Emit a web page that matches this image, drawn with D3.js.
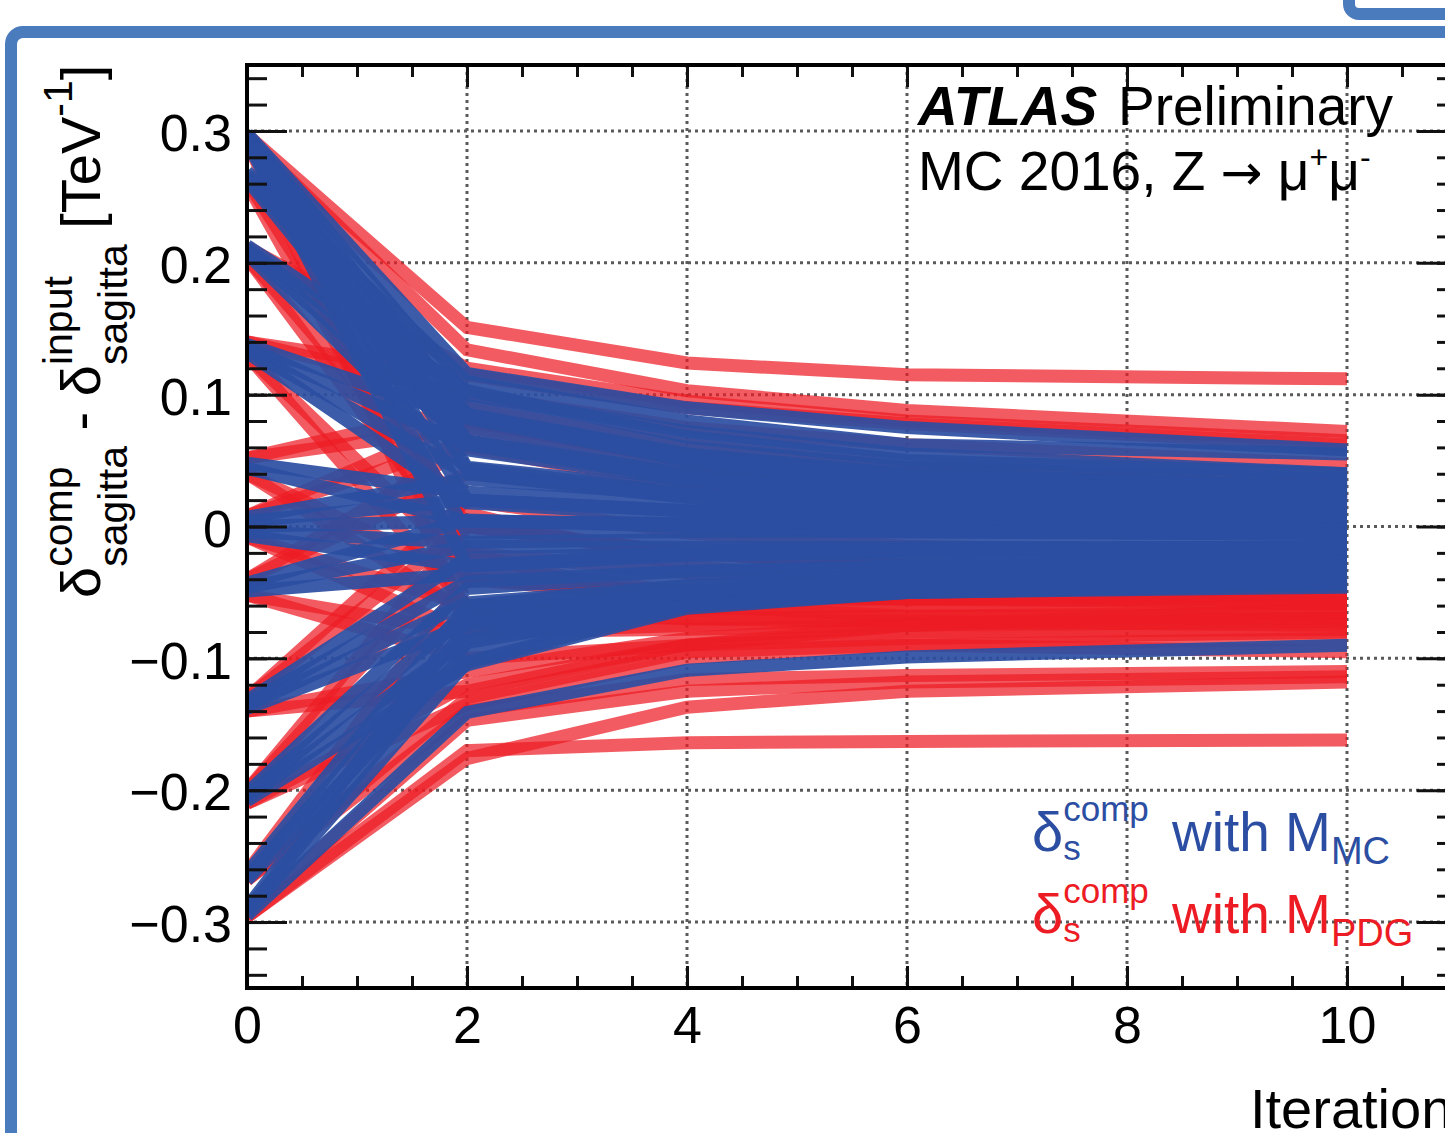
<!DOCTYPE html>
<html>
<head>
<meta charset="utf-8">
<script src="https://cdn.jsdelivr.net/npm/d3@7"></script>
<style>
  html, body { margin: 0; padding: 0; background: #fff; overflow: hidden; }
  svg { display: block; font-family: "Liberation Sans", Arial, Helvetica, sans-serif; }
  text { white-space: pre; }
</style>
</head>
<body>
<svg id="chart" width="1445" height="1133"></svg>
<script>
// iteration numbers at which every run is sampled
const iterations = [0, 2, 4, 6, 10];

// delta_s^comp with M_MC, one row per run: value at each iteration
const blueRuns = [
  [0.298, 0.116, 0.090, 0.075, 0.058],
  [0.297, 0.100, 0.072, 0.055, 0.040],
  [0.296, 0.085, 0.055, 0.040, 0.030],
  [0.295, 0.065, 0.040, 0.030, 0.022],
  [0.294, 0.045, 0.028, 0.020, 0.015],
  [0.294, 0.020, 0.012, 0.008, 0.005],
  [0.293, -0.005, -0.004, -0.004, -0.005],
  [0.292, -0.030, -0.020, -0.018, -0.015],
  [0.269, 0.110, 0.080, 0.062, 0.055],
  [0.267, 0.092, 0.060, 0.045, 0.035],
  [0.265, 0.075, 0.048, 0.035, 0.028],
  [0.263, 0.058, 0.035, 0.025, 0.018],
  [0.213, 0.103, 0.068, 0.050, 0.040],
  [0.211, 0.085, 0.052, 0.038, 0.030],
  [0.209, 0.065, 0.038, 0.026, 0.020],
  [0.207, 0.044, 0.025, 0.016, 0.010],
  [0.138, 0.082, 0.050, 0.035, 0.025],
  [0.136, 0.062, 0.036, 0.024, 0.016],
  [0.134, 0.040, 0.022, 0.012, 0.008],
  [0.132, 0.018, 0.008, 0.002, 0.000],
  [0.048, 0.026, 0.018, 0.012, 0.010],
  [0.044, 0.004, 0.002, 0.000, -0.002],
  [0.007, 0.036, 0.024, 0.018, 0.015],
  [0.004, 0.020, 0.012, 0.008, 0.006],
  [0.000, 0.004, 0.002, 0.000, -0.002],
  [-0.004, -0.012, -0.010, -0.010, -0.010],
  [-0.007, -0.030, -0.022, -0.020, -0.018],
  [-0.043, 0.005, 0.000, -0.004, -0.006],
  [-0.046, -0.015, -0.016, -0.016, -0.016],
  [-0.049, -0.036, -0.030, -0.026, -0.024],
  [-0.132, -0.024, -0.020, -0.018, -0.016],
  [-0.134, -0.042, -0.034, -0.030, -0.028],
  [-0.136, -0.058, -0.045, -0.038, -0.034],
  [-0.138, -0.075, -0.052, -0.044, -0.040],
  [-0.202, -0.047, -0.036, -0.030, -0.026],
  [-0.204, -0.066, -0.050, -0.040, -0.035],
  [-0.206, -0.086, -0.055, -0.046, -0.040],
  [-0.208, -0.105, -0.062, -0.050, -0.044],
  [-0.263, -0.060, -0.045, -0.036, -0.030],
  [-0.266, -0.078, -0.056, -0.044, -0.038],
  [-0.268, -0.095, -0.058, -0.048, -0.042],
  [-0.289, -0.070, -0.050, -0.040, -0.034],
  [-0.291, -0.088, -0.060, -0.046, -0.040],
  [-0.293, -0.103, -0.060, -0.050, -0.046],
  [-0.295, -0.141, -0.109, -0.099, -0.090]
];

// delta_s^comp with M_PDG
const redRuns = [
  [0.297, 0.151, 0.124, 0.115, 0.112],
  [0.295, 0.134, 0.103, 0.088, 0.072],
  [0.292, -0.070, -0.065, -0.060, -0.058],
  [0.262, 0.000, -0.020, -0.030, -0.030],
  [0.260, -0.040, -0.055, -0.055, -0.052],
  [0.212, 0.120, 0.095, 0.080, 0.065],
  [0.204, 0.010, -0.030, -0.045, -0.050],
  [0.204, -0.020, -0.060, -0.068, -0.070],
  [0.140, 0.115, 0.090, 0.078, 0.062],
  [0.140, 0.100, 0.075, 0.062, 0.047],
  [0.130, -0.030, -0.050, -0.055, -0.056],
  [0.130, -0.060, -0.070, -0.072, -0.075],
  [0.052, 0.075, 0.050, 0.030, 0.020],
  [0.052, 0.090, 0.062, 0.045, 0.035],
  [0.040, -0.040, -0.050, -0.055, -0.058],
  [0.040, -0.065, -0.070, -0.068, -0.065],
  [0.008, 0.065, 0.040, 0.030, 0.020],
  [0.008, 0.080, 0.050, 0.030, 0.025],
  [-0.008, -0.060, -0.062, -0.060, -0.058],
  [-0.008, -0.080, -0.075, -0.070, -0.066],
  [-0.040, 0.040, 0.025, 0.015, 0.010],
  [-0.040, 0.060, 0.030, 0.020, 0.012],
  [-0.052, -0.080, -0.078, -0.075, -0.072],
  [-0.052, -0.100, -0.090, -0.085, -0.080],
  [-0.130, 0.000, -0.020, -0.030, -0.035],
  [-0.130, 0.020, -0.005, -0.015, -0.020],
  [-0.140, -0.110, -0.085, -0.075, -0.070],
  [-0.140, -0.125, -0.090, -0.080, -0.078],
  [-0.200, -0.020, -0.035, -0.040, -0.045],
  [-0.200, 0.000, -0.020, -0.030, -0.032],
  [-0.210, -0.120, -0.090, -0.075, -0.062],
  [-0.210, -0.135, -0.100, -0.090, -0.085],
  [-0.262, -0.040, -0.050, -0.050, -0.050],
  [-0.268, -0.140, -0.116, -0.113, -0.110],
  [-0.268, -0.130, -0.095, -0.090, -0.095],
  [-0.293, -0.147, -0.125, -0.118, -0.114],
  [-0.296, -0.170, -0.164, -0.163, -0.162],
  [-0.296, -0.176, -0.137, -0.125, -0.118]
];

const xTicks = [0, 2, 4, 6, 8, 10];
const yTicks = [-0.3, -0.2, -0.1, 0, 0.1, 0.2, 0.3];
const yTickLabels = ["\u22120.3", "\u22120.2", "\u22120.1", "0", "0.1", "0.2", "0.3"];

const blueColor = "#2b4ea2";
const redColor = "#ed1c24";
const frameColor = "#4a7bbd";

const svg = d3.select("#chart");

// plot frame in pixels
const plotL = 247, plotR = 1457, plotT = 65, plotB = 988;
const x = d3.scaleLinear().domain([0, 11]).range([plotL, plotR]);
const y = d3.scaleLinear().domain([-0.35, 0.35]).range([plotB, plotT]);

// slide frame around the figure
svg.append("rect")
  .attr("x", 11).attr("y", 32).attr("width", 1700).attr("height", 1400)
  .attr("rx", 12).attr("fill", "none")
  .attr("stroke", frameColor).attr("stroke-width", 12);
svg.append("rect")
  .attr("x", 1349).attr("y", -200).attr("width", 300).attr("height", 214)
  .attr("rx", 10).attr("fill", "none")
  .attr("stroke", frameColor).attr("stroke-width", 12);

// dotted grid
const grid = svg.append("g")
  .attr("stroke", "#5a5a5a").attr("stroke-width", 3).attr("stroke-dasharray", "3,4");
grid.selectAll("line.gy").data(yTicks).join("line")
  .attr("x1", plotL).attr("x2", plotR)
  .attr("y1", d => y(d)).attr("y2", d => y(d));
grid.selectAll("line.gx").data(xTicks.filter(d => d > 0)).join("line")
  .attr("y1", plotT).attr("y2", plotB)
  .attr("x1", d => x(d)).attr("x2", d => x(d));

// runs
svg.append("clipPath").attr("id", "plotclip")
  .append("rect").attr("x", plotL).attr("y", plotT)
  .attr("width", plotR - plotL).attr("height", plotB - plotT);

const line = d3.line()
  .x((d, i) => x(iterations[i]))
  .y(d => y(d));

const runs = svg.append("g").attr("clip-path", "url(#plotclip)")
  .attr("fill", "none").attr("stroke-width", 13);

runs.append("g").selectAll("path").data(redRuns).join("path")
  .attr("d", line).attr("stroke", redColor).attr("stroke-opacity", 0.72);

runs.append("g").selectAll("path").data(blueRuns).join("path")
  .attr("d", line).attr("stroke", blueColor).attr("stroke-opacity", 0.92);

// axes: major and minor ticks on all four sides, pointing inward
const xMinor = d3.range(0, 11.01, 0.5);
const yMinor = d3.range(-0.34, 0.345, 0.02);

function styleAxis(g) {
  g.selectAll(".tick line").attr("stroke", "#111").attr("stroke-width", 3);
  g.select(".domain").remove();
  g.selectAll("text").attr("font-size", 52).attr("fill", "#000")
    .attr("font-family", "Liberation Sans, Arial, sans-serif");
}

svg.append("g").attr("transform", `translate(0,${plotB})`)
  .call(d3.axisBottom(x).tickValues(xMinor).tickSize(-12).tickFormat(""))
  .call(styleAxis);
svg.append("g").attr("transform", `translate(0,${plotB})`)
  .call(d3.axisBottom(x).tickValues(xTicks).tickSize(-22).tickPadding(18).tickFormat(d3.format("d")))
  .call(styleAxis);
svg.append("g").attr("transform", `translate(0,${plotT})`)
  .call(d3.axisTop(x).tickValues(xMinor).tickSize(-12).tickFormat(""))
  .call(styleAxis);
svg.append("g").attr("transform", `translate(0,${plotT})`)
  .call(d3.axisTop(x).tickValues(xTicks).tickSize(-22).tickFormat(""))
  .call(styleAxis);

svg.append("g").attr("transform", `translate(${plotL},0)`)
  .call(d3.axisLeft(y).tickValues(yMinor).tickSize(-20).tickFormat(""))
  .call(styleAxis);
const gy = svg.append("g").attr("transform", `translate(${plotL},0)`)
  .call(d3.axisLeft(y).tickValues(yTicks).tickSize(-40).tickPadding(15)
    .tickFormat((d, i) => yTickLabels[i]))
  .call(styleAxis);
gy.selectAll("text").attr("dy", "0.38em");
svg.append("g").attr("transform", `translate(${plotR},0)`)
  .call(d3.axisRight(y).tickValues(yMinor).tickSize(-20).tickFormat(""))
  .call(styleAxis);
svg.append("g").attr("transform", `translate(${plotR},0)`)
  .call(d3.axisRight(y).tickValues(yTicks).tickSize(-40).tickFormat(""))
  .call(styleAxis);

svg.append("rect")
  .attr("x", plotL).attr("y", plotT).attr("width", plotR - plotL).attr("height", plotB - plotT)
  .attr("fill", "none").attr("stroke", "#000").attr("stroke-width", 4);

// text with sub/superscripts laid out piece by piece
function richText(g, parts, fill) {
  let cx = 0, prevStart = 0, prevW = 0;
  parts.forEach(p => {
    const el = g.append("text")
      .attr("y", p.dy || 0)
      .attr("font-size", p.size)
      .attr("fill", fill)
      .text(p.t);
    if (p.family) el.attr("font-family", p.family);
    const w = el.node().getComputedTextLength();
    if (p.stack) {
      el.attr("x", prevStart);
      cx = prevStart + Math.max(prevW, w);
    } else {
      el.attr("x", cx);
      prevStart = cx;
      prevW = w;
      cx += w;
    }
  });
  return cx;
}

// y-axis title
const ytitle = svg.append("g").attr("transform", "translate(100,598) rotate(-90)");
richText(ytitle, [
  {t: "\u03b4", size: 56},
  {t: "comp", size: 41, dy: -28},
  {t: "sagitta", size: 41, dy: 27, stack: true},
  {t: " - ", size: 56},
  {t: "\u03b4", size: 56},
  {t: "input", size: 41, dy: -28},
  {t: "sagitta", size: 41, dy: 27, stack: true},
  {t: " [TeV", size: 56},
  {t: "-1", size: 41, dy: -28},
  {t: "]", size: 56}
], "#000");

// x-axis title (runs past the right edge, as in the slide)
svg.append("text").attr("x", 1250).attr("y", 1128)
  .attr("font-size", 56).attr("fill", "#000").text("Iteration");

// ATLAS label
svg.append("text").attr("x", 918).attr("y", 125)
  .attr("font-size", 55).attr("font-weight", "bold").attr("font-style", "italic")
  .text("ATLAS");
svg.append("text").attr("x", 1118).attr("y", 125)
  .attr("font-size", 55).text("Preliminary");
const proc = svg.append("g").attr("transform", "translate(918,190)");
richText(proc, [
  {t: "MC 2016, Z ", size: 55},
  {t: "\u2192", size: 50, family: "DejaVu Sans"},
  {t: " \u03bc", size: 55},
  {t: "+", size: 32, dy: -22},
  {t: "\u03bc", size: 55},
  {t: "-", size: 32, dy: -22}
], "#000");

// legend
const legendRows = [
  {sub: "MC", color: blueColor, baseline: 851},
  {sub: "PDG", color: redColor, baseline: 933}
];
legendRows.forEach(r => {
  const a = svg.append("g").attr("transform", `translate(1032,${r.baseline})`);
  richText(a, [
    {t: "\u03b4", size: 56},
    {t: "comp", size: 35, dy: -30},
    {t: "s", size: 35, dy: 9, stack: true}
  ], r.color);
  const b = svg.append("g").attr("transform", `translate(1172,${r.baseline})`);
  richText(b, [
    {t: "with M", size: 55},
    {t: r.sub, size: 38, dy: 13}
  ], r.color);
});
</script>
</body>
</html>
